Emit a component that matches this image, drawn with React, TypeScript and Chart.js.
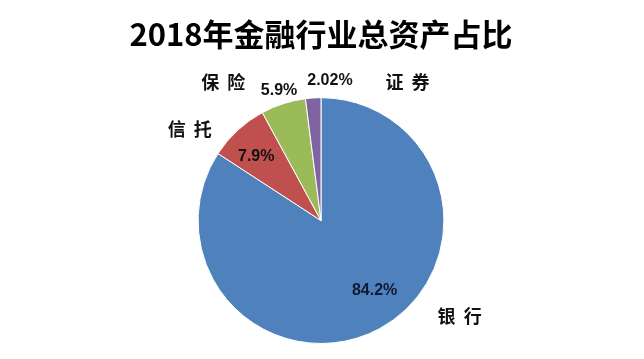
import React, { useEffect, useRef } from "react";
import { Chart, registerables } from "chart.js";

Chart.register(...registerables);

const titleText = "2018年金融行业总资产占比";
const categories = ["银行", "信托", "保险", "证券"];
const shares = [84.2, 7.9, 5.9, 2.02];
const percentLabels = ["84.2%", "7.9%", "5.9%", "2.02%"];
const colors = ["#4F81BD", "#C0504D", "#9BBB59", "#8064A2"];

// label placement relative to each slice: [angle offset from mid (deg), radius factor]
const pctPlacement = [
  [-8.8, 0.72],
  [-2.7, 0.74],
  [0, 1.11],
  [7.3, 1.14],
];
const namePlacement = [
  [-26.9, 1.37],
  [-12.5, 1.3],
  [-17.3, 1.38],
  [35.6, 1.33],
];

const labelPlugin = {
  id: "sliceLabels",
  afterDatasetsDraw(chart: any) {
    const ctx = chart.ctx;
    const meta = chart.getDatasetMeta(0);
    ctx.save();
    ctx.textAlign = "center";
    ctx.textBaseline = "middle";
    meta.data.forEach((arc: any, i: number) => {
      const p = arc.getProps(["x", "y", "startAngle", "endAngle", "outerRadius"], true);
      const mid = (p.startAngle + p.endAngle) / 2;
      // percentage
      const a1 = mid + (pctPlacement[i][0] * Math.PI) / 180;
      const r1 = p.outerRadius * pctPlacement[i][1];
      ctx.font = 'bold 16px "Liberation Sans", "Noto Sans CJK SC", sans-serif';
      ctx.fillStyle = i === 0 ? "#111a33" : "#111111";
      ctx.fillText(percentLabels[i], p.x + Math.cos(a1) * r1, p.y + Math.sin(a1) * r1);
      // category name
      const a2 = mid + (namePlacement[i][0] * Math.PI) / 180;
      const r2 = p.outerRadius * namePlacement[i][1];
      ctx.font = 'bold 18px "Noto Sans CJK SC", sans-serif';
      ctx.fillStyle = "#111111";
      ctx.fillText(categories[i].split("").join("  "), p.x + Math.cos(a2) * r2, p.y + Math.sin(a2) * r2);
    });
    ctx.restore();
  },
};

export default function App() {
  const ref = useRef<HTMLCanvasElement | null>(null);
  useEffect(() => {
    if (!ref.current) return;
    const chart = new Chart(ref.current, {
      type: "pie",
      data: {
        labels: categories,
        datasets: [
          {
            data: shares,
            backgroundColor: colors,
            borderColor: "#ffffff",
            borderWidth: 1,
          },
        ],
      },
      options: {
        responsive: false,
        animation: false,
        devicePixelRatio: 1,
        layout: { padding: { top: 0, bottom: 15, left: 0, right: 2 } },
        plugins: {
          legend: { display: false },
          tooltip: { enabled: false },
          title: {
            display: true,
            text: titleText,
            color: "#000000",
            font: { size: 31, weight: "bold", family: '"Noto Sans CJK SC", sans-serif', lineHeight: 1.2 },
            padding: { top: 16, bottom: 44 },
          },
        },
      },
      plugins: [labelPlugin],
    } as any);
    return () => chart.destroy();
  }, []);
  return (
    <div style={{ position: "fixed", left: 0, top: 0, width: 644, height: 359, background: "#ffffff" }}>
      <canvas ref={ref} width={644} height={359} />
    </div>
  );
}
